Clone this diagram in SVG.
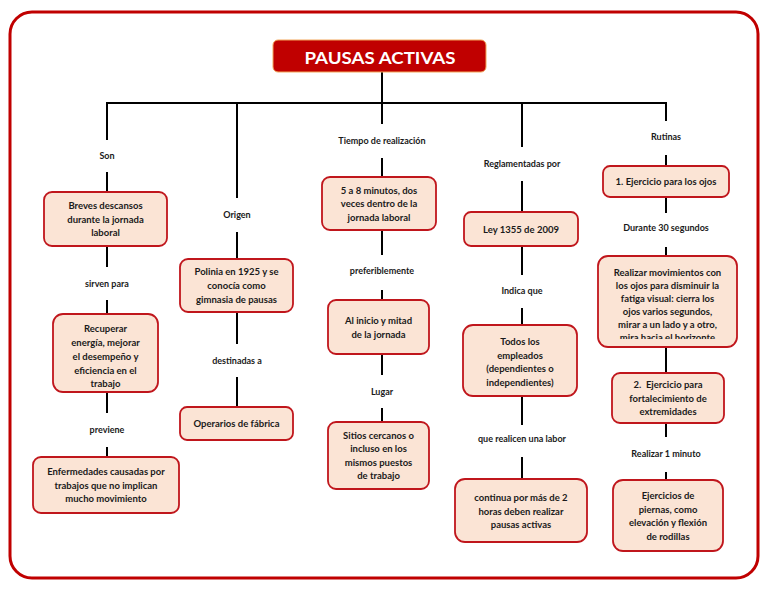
<svg xmlns="http://www.w3.org/2000/svg" width="768" height="594" viewBox="0 0 768 594">
<defs>
<style>
.frame{fill:#ffffff;stroke:#c00000;stroke-width:3}
.box{fill:#fbe4d5;stroke:#c0161c;stroke-width:1.8}
.title{fill:#c00000;stroke:#f2a65a;stroke-width:1}
.t{font-family:Lato,"Open Sans","Liberation Sans",sans-serif;font-weight:bold;font-size:9.5px;fill:#1a1a1a;text-anchor:middle}
.lbl{font-family:Lato,"Open Sans","Liberation Sans",sans-serif;font-weight:bold;font-size:9px;fill:#1a1a1a;text-anchor:middle}
.tt{font-family:Lato,"Open Sans","Liberation Sans",sans-serif;font-weight:bold;font-size:17px;fill:#ffffff;text-anchor:middle}
.c{stroke:#000000;stroke-width:2;fill:none}
</style>
<clipPath id="clipR"><rect x="598" y="256" width="139" height="83"/></clipPath>
</defs>
<rect width="768" height="594" fill="#ffffff"/>
<rect class="frame" x="10" y="12" width="748" height="566" rx="22"/>

<g id="connectors">
<path class="c" d="M382 72V103M107 103H667M107 102V140M237 102V198M382 102V124M522 102V147M666 102V121"/>
<path class="c" d="M107 172V192M107 246V267M107 300V314M107 392V413M107 447V457"/>
<path class="c" d="M237 232V259M237 312V344M237 377V407"/>
<path class="c" d="M382 158V177M382 230V255M382 290V300M382 354V375M382 408V422"/>
<path class="c" d="M522 181V212M522 246V275M522 308V325M522 396V425M522 457V479"/>
<path class="c" d="M666 155V166M666 197V213M666 247V256M666 347V373M666 423V437M666 472V480"/>
</g>

<g id="title">
<rect class="title" x="273" y="40" width="213" height="32" rx="5"/>
<text class="tt" x="380" y="64" textLength="151" lengthAdjust="spacingAndGlyphs">PAUSAS ACTIVAS</text>
</g>

<g id="labels">
<text class="lbl" x="107" y="159">Son</text>
<text class="lbl" x="107" y="287">sirven para</text>
<text class="lbl" x="107" y="433">previene</text>
<text class="lbl" x="237" y="218">Origen</text>
<text class="lbl" x="237" y="364">destinadas a</text>
<text class="lbl" x="382" y="144">Tiempo de realización</text>
<text class="lbl" x="382" y="274">preferiblemente</text>
<text class="lbl" x="382" y="395">Lugar</text>
<text class="lbl" x="522" y="167">Reglamentadas por</text>
<text class="lbl" x="522" y="294">Indica que</text>
<text class="lbl" x="522" y="442">que realicen una labor</text>
<text class="lbl" x="666" y="140">Rutinas</text>
<text class="lbl" x="666" y="231">Durante 30 segundos</text>
<text class="lbl" x="666" y="457">Realizar 1 minuto</text>
</g>

<g id="n-breves">
<rect class="box" x="44" y="192" width="123" height="54" rx="8"/>
<text class="t" x="105.5" y="209">Breves descansos</text>
<text class="t" x="105.5" y="222.5">durante la jornada</text>
<text class="t" x="105.5" y="236">laboral</text>
</g>

<g id="n-recuperar">
<rect class="box" x="53" y="314" width="105" height="78" rx="10"/>
<text class="t" x="105.5" y="332">Recuperar</text>
<text class="t" x="105.5" y="346">energía, mejorar</text>
<text class="t" x="105.5" y="360">el desempeño y</text>
<text class="t" x="105.5" y="373.5">eficiencia en el</text>
<text class="t" x="105.5" y="387">trabajo</text>
</g>

<g id="n-enfermedades">
<rect class="box" x="33" y="457" width="146" height="56" rx="8"/>
<text class="t" x="106" y="475">Enfermedades causadas por</text>
<text class="t" x="106" y="488.5">trabajos que no implican</text>
<text class="t" x="106" y="502">mucho movimiento</text>
</g>

<g id="n-polinia">
<rect class="box" x="180" y="259" width="113" height="53" rx="8"/>
<text class="t" x="236.5" y="275">Polinia en 1925 y se</text>
<text class="t" x="236.5" y="289">conocía como</text>
<text class="t" x="236.5" y="302.5">gimnasia de pausas</text>
</g>

<g id="n-operarios">
<rect class="box" x="180" y="407" width="113" height="33" rx="7"/>
<text class="t" x="236.5" y="427">Operarios de fábrica</text>
</g>

<g id="n-minutos">
<rect class="box" x="322" y="177" width="114" height="53" rx="8"/>
<text class="t" x="379" y="193.5">5 a 8 minutos, dos</text>
<text class="t" x="379" y="207">veces dentro de la</text>
<text class="t" x="379" y="220.5">jornada laboral</text>
</g>

<g id="n-inicio">
<rect class="box" x="328" y="300" width="101" height="54" rx="8"/>
<text class="t" x="378.5" y="324">Al inicio y mitad</text>
<text class="t" x="378.5" y="337.5">de la jornada</text>
</g>

<g id="n-sitios">
<rect class="box" x="328" y="422" width="101" height="67" rx="8"/>
<text class="t" x="378.5" y="438.5">Sitios cercanos o</text>
<text class="t" x="378.5" y="452">incluso en los</text>
<text class="t" x="378.5" y="465.5">mismos puestos</text>
<text class="t" x="378.5" y="479">de trabajo</text>
</g>

<g id="n-ley">
<rect class="box" x="464" y="212" width="114" height="34" rx="7"/>
<text class="t" x="521" y="232.5">Ley 1355 de 2009</text>
</g>

<g id="n-todos">
<rect class="box" x="463" y="325" width="114" height="71" rx="10"/>
<text class="t" x="520" y="345">Todos los</text>
<text class="t" x="520" y="358.5">empleados</text>
<text class="t" x="520" y="372">(dependientes o</text>
<text class="t" x="520" y="385.5">independientes)</text>
</g>

<g id="n-continua">
<rect class="box" x="455" y="479" width="132" height="63" rx="10"/>
<text class="t" x="521" y="501">continua por más de 2</text>
<text class="t" x="521" y="514.5">horas deben realizar</text>
<text class="t" x="521" y="528">pausas activas</text>
</g>

<g id="n-ojos">
<rect class="box" x="603" y="166" width="126" height="31" rx="7"/>
<text class="t" x="666" y="185">1. Ejercicio para los ojos</text>
</g>

<g id="n-movimientos">
<rect class="box" x="598" y="256" width="139" height="91" rx="10"/>
<g clip-path="url(#clipR)">
<text class="t" x="667.5" y="275.5">Realizar movimientos con</text>
<text class="t" x="667.5" y="288.5">los ojos para disminuir la</text>
<text class="t" x="667.5" y="301.5">fatiga visual: cierra los</text>
<text class="t" x="667.5" y="314.5">ojos varios segundos,</text>
<text class="t" x="667.5" y="327.5">mirar a un lado y a otro,</text>
<text class="t" x="667.5" y="340.5">mira hacia el horizonte</text>
</g>
</g>

<g id="n-extremidades">
<rect class="box" x="612" y="373" width="112" height="50" rx="8"/>
<text class="t" x="668" y="388" xml:space="preserve">2.  Ejercicio para</text>
<text class="t" x="668" y="401.5">fortalecimiento de</text>
<text class="t" x="668" y="415">extremidades</text>
</g>

<g id="n-piernas">
<rect class="box" x="613" y="480" width="110" height="71" rx="10"/>
<text class="t" x="668" y="499">Ejercicios de</text>
<text class="t" x="668" y="512.5">piernas, como</text>
<text class="t" x="668" y="526">elevación y flexión</text>
<text class="t" x="668" y="539.5">de rodillas</text>
</g>
</svg>
